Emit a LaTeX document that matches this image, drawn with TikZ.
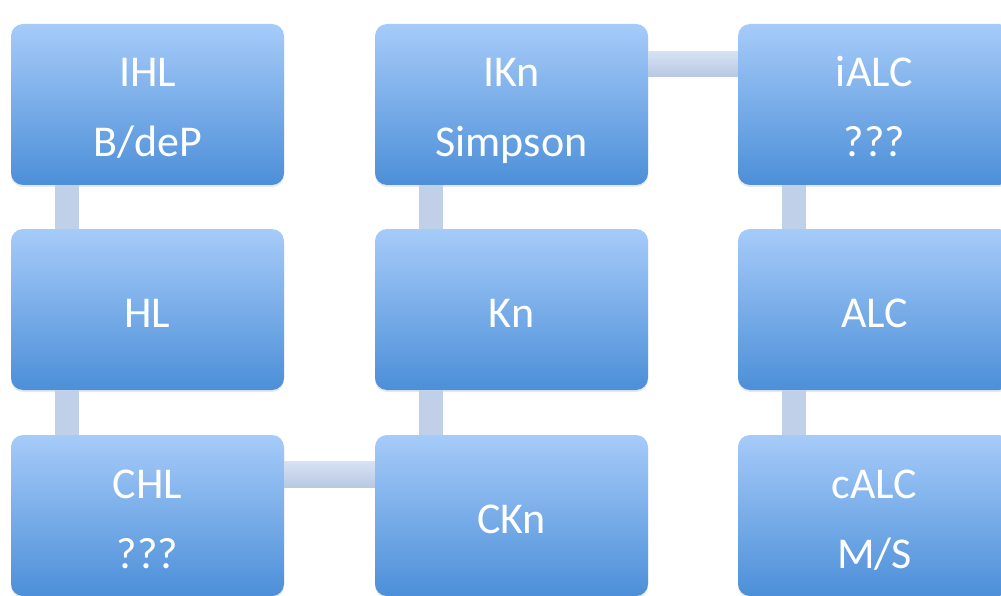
\documentclass[tikz,border=0pt]{standalone}
\usepackage{fontspec}
\setmainfont{Carlito}
\usetikzlibrary{shadows}
\definecolor{boxtop}{RGB}{166,203,249}
\definecolor{boxbot}{RGB}{76,143,216}
\definecolor{conn}{RGB}{192,208,233}
\definecolor{conntop}{RGB}{214,225,242}
\definecolor{connbot}{RGB}{184,200,228}
\newcommand\mystrut{\rule[-17pt]{0pt}{69pt}}
\tikzset{
  logicbox/.style={rectangle, rounded corners=12pt, minimum width=273pt, minimum height=161pt,
    inner sep=0pt, top color=boxtop, bottom color=boxbot, draw=none, text=white,
    align=center, font=\fontsize{44}{70}\selectfont,
    drop shadow={opacity=0.18, shadow xshift=0pt, shadow yshift=-2pt}},
  vconn/.style={line width=24pt, draw=conn},
}
\begin{document}
\begin{tikzpicture}[x=1pt,y=-1pt]
\useasboundingbox (0,0) rectangle (1001,596);
\fill[white] (0,0) rectangle (1001,596);
% nodes
\node[logicbox] (ihl) at (147.5,104.5) {\mystrut IHL\\\mystrut B/deP};
\node[logicbox] (hl) at (147.5,309.5) {\mystrut HL};
\node[logicbox] (chl) at (147.5,515.5) {\mystrut CHL\\\mystrut ???};
\node[logicbox] (ikn) at (511.5,104.5) {\mystrut IKn\\\mystrut Simpson};
\node[logicbox] (kn) at (511.5,309.5) {\mystrut Kn};
\node[logicbox] (ckn) at (511.5,515.5) {\mystrut CKn};
\node[logicbox] (ialc) at (874.5,104.5) {\mystrut iALC\\\mystrut ???};
\node[logicbox] (alc) at (874.5,309.5) {\mystrut ALC};
\node[logicbox] (calc) at (874.5,515.5) {\mystrut cALC\\\mystrut M/S};
% vertical connectors
\draw[vconn] ([xshift=56pt]ihl.south west) -- ([xshift=56pt]hl.north west);
\draw[vconn] ([xshift=56pt]hl.south west) -- ([xshift=56pt]chl.north west);
\draw[vconn] ([xshift=56pt]ikn.south west) -- ([xshift=56pt]kn.north west);
\draw[vconn] ([xshift=56pt]kn.south west) -- ([xshift=56pt]ckn.north west);
\draw[vconn] ([xshift=56pt]ialc.south west) -- ([xshift=56pt]alc.north west);
\draw[vconn] ([xshift=56pt]alc.south west) -- ([xshift=56pt]calc.north west);
% horizontal connectors
\shade[top color=conntop, bottom color=connbot] ([yshift=-28pt]ikn.north east) rectangle ([yshift=-53pt]ialc.north west);
\shade[top color=conntop, bottom color=connbot] ([yshift=-27pt]chl.north east) rectangle ([yshift=-53pt]ckn.north west);
\end{tikzpicture}
\end{document}
